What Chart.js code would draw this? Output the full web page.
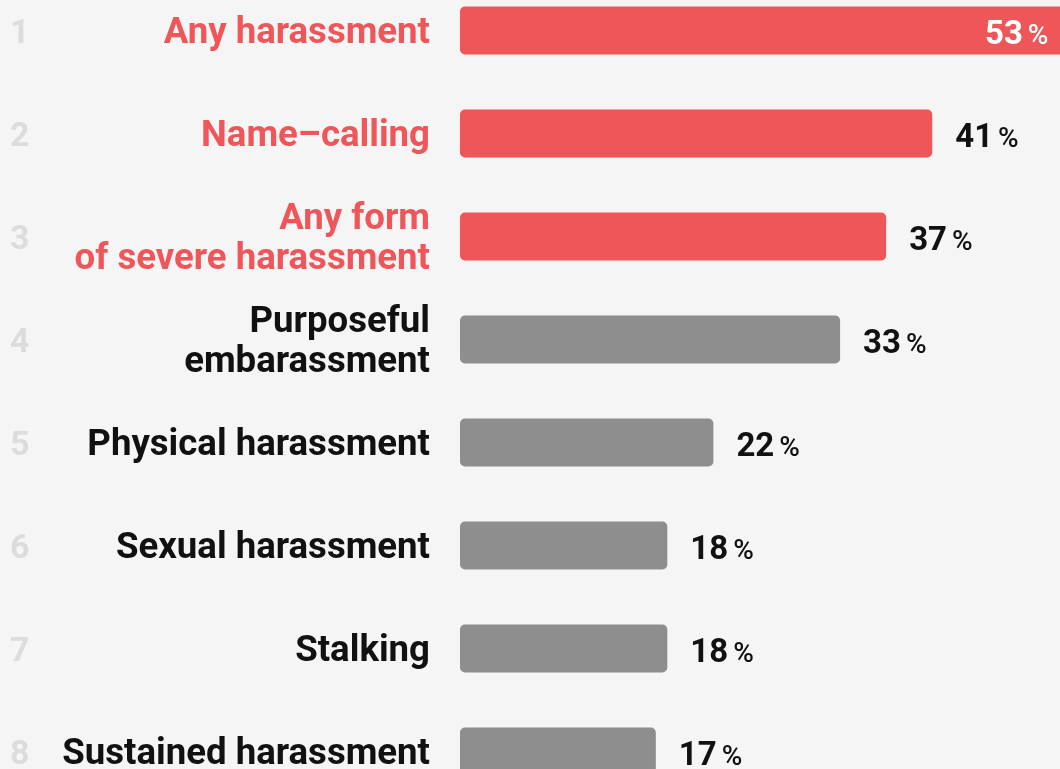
<!DOCTYPE html>
<html>
<head>
<meta charset="utf-8">
<script src="https://cdn.jsdelivr.net/npm/chart.js@4"></script>
<style>
  html, body {
    margin: 0;
    padding: 0;
    background: #f5f5f5;
    width: 1060px;
    height: 769px;
    overflow: hidden;
  }
  #wrap {
    position: absolute;
    left: 0;
    top: -21px;
    width: 1105px;
    height: 824px;
  }
</style>
</head>
<body>
<div id="wrap"><canvas id="grafico"></canvas></div>
<script>
const categories = [
  "Any harassment",
  "Name\u2013calling",
  ["Any form", "of severe harassment"],
  ["Purposeful", "embarassment"],
  "Physical harassment",
  "Sexual harassment",
  "Stalking",
  "Sustained harassment"
];
const values = [53, 41, 37, 33, 22, 18, 18, 17];
const ranks = ["1", "2", "3", "4", "5", "6", "7", "8"];
const highlightCount = 3;

const RED = "#ef5659";
const GREY = "#8e8e8e";
const FONT = "Roboto, 'Liberation Sans', sans-serif";

// rank numbers on the far left and value labels next to each bar
const decorations = {
  id: "decorations",
  afterDatasetsDraw(chart) {
    const ctx = chart.ctx;
    const yScale = chart.scales.y;
    const meta = chart.getDatasetMeta(0);
    const area = chart.chartArea;

    ctx.save();
    ctx.fillStyle = "#dcdcdc";
    ctx.font = "bold 34px " + FONT;
    ctx.textAlign = "left";
    ctx.textBaseline = "alphabetic";
    ranks.forEach((r, i) => {
      const y = yScale.getPixelForValue(i);
      ctx.fillText(r, 10, y + 12);
    });

    meta.data.forEach((bar, i) => {
      const num = String(values[i]);
      ctx.font = "bold 33px " + FONT;
      const numW = ctx.measureText(num).width;
      ctx.font = "500 28px " + FONT;
      const pctW = ctx.measureText("%").width;
      const gap = 5;
      const total = numW + gap + pctW;
      const y = bar.y + 13;
      let x;
      if (bar.x + 24 + total > area.right - 40) {
        ctx.fillStyle = "#ffffff";
        x = bar.x - 22 - total;
      } else {
        ctx.fillStyle = "#111111";
        x = bar.x + 23;
      }
      ctx.textAlign = "left";
      ctx.font = "bold 33px " + FONT;
      ctx.fillText(num, x, y);
      ctx.font = "500 28px " + FONT;
      ctx.fillText("%", x + numW + gap, y);
    });
    ctx.restore();
  }
};

new Chart(document.getElementById("grafico"), {
  type: "bar",
  data: {
    labels: categories,
    datasets: [{
      data: values,
      backgroundColor: values.map((v, i) => i < highlightCount ? RED : GREY),
      borderRadius: 5,
      borderSkipped: false,
      barPercentage: 0.465,
      categoryPercentage: 1
    }]
  },
  options: {
    indexAxis: "y",
    responsive: true,
    maintainAspectRatio: false,
    animation: false,
    layout: { padding: 0 },
    plugins: {
      legend: { display: false },
      tooltip: { enabled: false }
    },
    scales: {
      x: {
        display: false,
        min: 0,
        max: 56
      },
      y: {
        afterFit(scale) {
          scale.width = 460;
          scale.paddingTop = 0;
          scale.paddingBottom = 0;
        },
        grid: { display: false, drawTicks: false },
        border: { display: false },
        ticks: {
          padding: 30,
          labelOffset: 3,
          color: (c) => c.index < highlightCount ? RED : "#111111",
          font: { family: FONT, size: 36.6, weight: "bold", lineHeight: 1.1 }
        }
      }
    }
  },
  plugins: [decorations]
});
</script>
</body>
</html>
